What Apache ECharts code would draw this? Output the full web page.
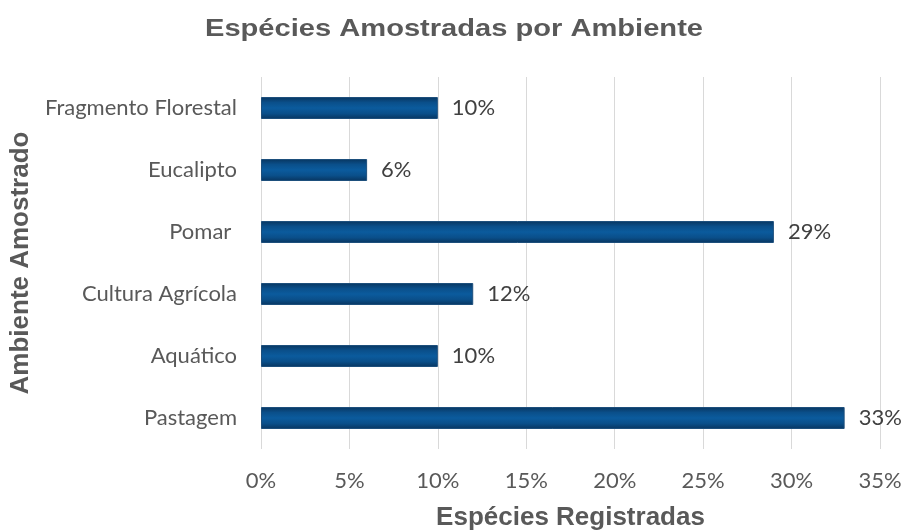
<!DOCTYPE html>
<html>
<head>
<meta charset="utf-8">
<script src="https://cdn.jsdelivr.net/npm/echarts@6/dist/echarts.min.js"></script>
<style>
  html, body { margin: 0; padding: 0; background: #ffffff; }
  #chart { width: 904px; height: 530px; }
</style>
</head>
<body>
<div id="chart"></div>
<script>
// Sampled environments, listed bottom-to-top as drawn on the category axis
const categories = ['Pastagem', 'Aquático', 'Cultura Agrícola', 'Pomar ', 'Eucalipto', 'Fragmento Florestal'];
// Share of recorded species per environment (%)
const shares = [33, 10, 12, 29, 6, 10];
// Value axis ticks (%)
const xTicks = [0, 5, 10, 15, 20, 25, 30, 35];

const labelFont = 'Lato, "Open Sans", sans-serif';
const headFont = '"Liberation Sans", Arial, sans-serif';

const chart = echarts.init(document.getElementById('chart'), null, { renderer: 'canvas' });

chart.setOption({
  animation: false,
  backgroundColor: '#ffffff',
  graphic: [{
    // chart title, drawn slightly widened
    type: 'text',
    left: 205,
    top: 18,
    scaleX: 1.265,
    style: {
      text: 'Espécies Amostradas por Ambiente',
      fontFamily: headFont,
      fontSize: 23,
      fontWeight: 'bold',
      fill: '#595959'
    }
  }],
  grid: { left: 261, right: 24, top: 77, height: 372, outerBoundsMode: 'none', containLabel: false },
  xAxis: {
    type: 'value',
    min: xTicks[0],
    max: xTicks[xTicks.length - 1],
    interval: 5,
    name: 'Espécies Registradas',
    nameLocation: 'middle',
    nameGap: 56,
    nameTextStyle: { fontFamily: headFont, fontSize: 26, fontWeight: 'bold', color: '#595959' },
    axisLine: { show: false },
    axisTick: { show: false },
    axisLabel: {
      margin: 21,
      formatter: v => v + '%',
      fontFamily: labelFont, fontSize: 22, color: '#595959'
    },
    splitLine: { show: true, lineStyle: { color: '#d9d9d9', width: 1 } }
  },
  yAxis: {
    type: 'category',
    data: categories,
    name: 'Ambiente Amostrado',
    nameLocation: 'middle',
    nameGap: 227,
    nameRotate: 90,
    nameTextStyle: { fontFamily: headFont, fontSize: 26, fontWeight: 'bold', color: '#595959' },
    axisLine: { show: false },
    axisTick: { show: false },
    axisLabel: { margin: 24, fontFamily: labelFont, fontSize: 22, color: '#595959' },
    splitLine: { show: false }
  },
  series: [{
    type: 'bar',
    data: shares,
    barWidth: 22,
    itemStyle: {
      color: new echarts.graphic.LinearGradient(0, 0, 0, 1, [
        { offset: 0, color: '#08355f' },
        { offset: 0.25, color: '#0a4f8a' },
        { offset: 0.5, color: '#0b5b9d' },
        { offset: 0.75, color: '#0a4f8a' },
        { offset: 1, color: '#08355f' }
      ]),
      borderColor: '#1d4f7c',
      borderWidth: 1
    },
    label: {
      show: true,
      position: 'right',
      distance: 14,
      formatter: p => p.value + '%',
      fontFamily: labelFont, fontSize: 22, color: '#404040'
    }
  }]
});
</script>
</body>
</html>
